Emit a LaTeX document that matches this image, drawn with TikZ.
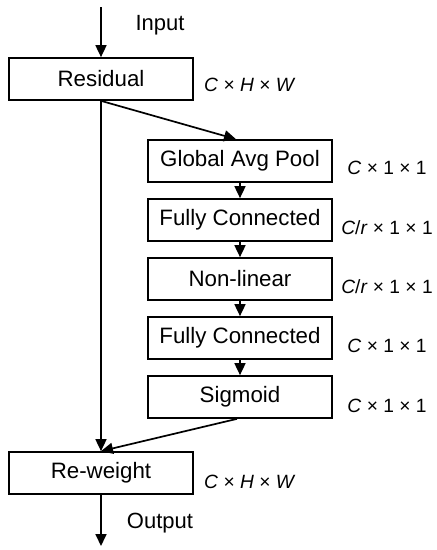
\documentclass[tikz,border=0pt]{standalone}
\usepackage{fontspec}
\setmainfont{Liberation Sans}
\usetikzlibrary{arrows.meta}
\begin{document}
\begin{tikzpicture}[x=1pt,y=-1pt,
  blk/.style={draw,line width=1.7pt,minimum width=184pt,minimum height=42pt,inner sep=0pt,font=\fontsize{22.3}{25}\selectfont},
  dimlbl/.style={font=\fontsize{19.2}{22}\selectfont,inner sep=0pt},
  io/.style={font=\fontsize{22}{25}\selectfont,inner sep=0pt},
  arr/.style={line width=1.7pt,-{Triangle[length=12pt,width=11pt]}}]
\useasboundingbox (0,0) rectangle (437,550);
\node[blk] (res) at (101,79) {Residual};
\node[blk] (gap) at (240,161) {Global Avg Pool};
\node[blk] (fc1) at (240,220) {Fully Connected};
\node[blk] (nl) at (240,279) {Non-linear};
\node[blk] (fc2) at (240,338) {Fully Connected};
\node[blk] (sig) at (240,397) {Sigmoid};
\node[blk] (rw) at (101,473) {Re-weight};
\coordinate (in) at (101,7);
\coordinate (out) at (101,546);
\node[io] (inl) at (160,25) {Input};
\node[io] (outl) at (160,523) {Output};
\node[dimlbl,anchor=west] (l0) at (204,85) {\textit{C} × \textit{H} × \textit{W}};
\node[dimlbl] (l1) at (387,168) {\textit{C} × 1 × 1};
\node[dimlbl] (l2) at (387,228) {\textit{C}/\textit{r} × 1 × 1};
\node[dimlbl] (l3) at (387,287) {\textit{C}/\textit{r} × 1 × 1};
\node[dimlbl] (l4) at (387,346) {\textit{C} × 1 × 1};
\node[dimlbl] (l5) at (387,406) {\textit{C} × 1 × 1};
\node[dimlbl,anchor=west] (l6) at (204,482) {\textit{C} × \textit{H} × \textit{W}};
\draw[arr] (in) -- (res.north);
\draw[arr] (res.south) -- (rw.north);
\draw[arr] (res.south) -- ([xshift=-4pt]gap.north);
\draw[arr] (gap.south) -- (fc1.north);
\draw[arr] (fc1.south) -- (nl.north);
\draw[arr] (nl.south) -- (fc2.north);
\draw[arr] (fc2.south) -- (sig.north);
\draw[arr] ([xshift=-3pt]sig.south) -- (rw.north);
\draw[arr] (rw.south) -- (out);
\end{tikzpicture}
\end{document}
